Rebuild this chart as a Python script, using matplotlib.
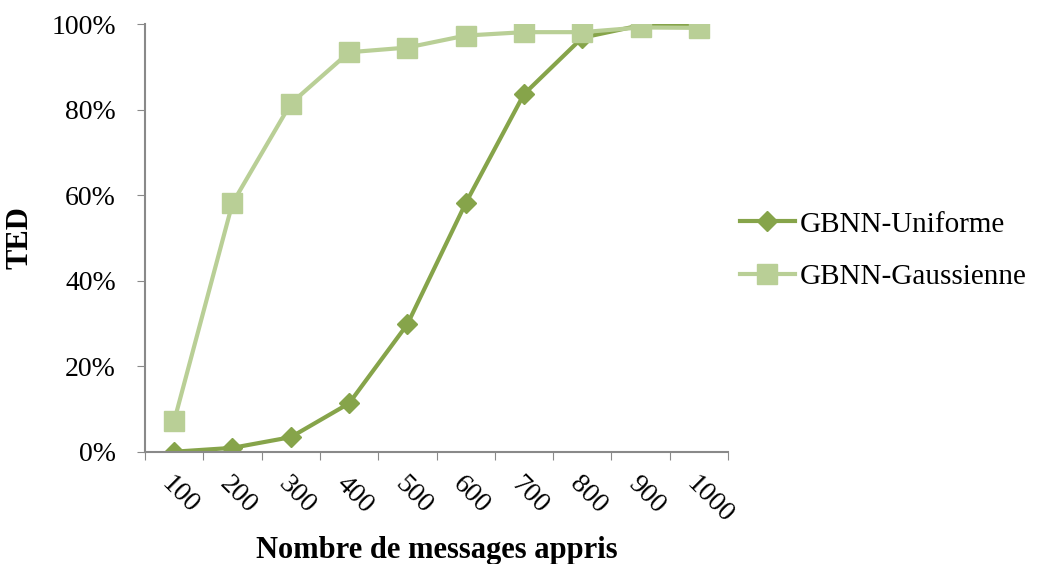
import matplotlib.pyplot as plt
import numpy as np
from matplotlib.ticker import FuncFormatter

plt.rcParams['font.family'] = ['Liberation Serif', 'DejaVu Serif']

categories = ["100", "200", "300", "400", "500", "600", "700", "800", "900", "1000"]
uniforme = [0.0, 0.9, 3.4, 11.3, 29.8, 58.1, 83.6, 96.8, 99.7, 99.8]
gaussienne = [7.2, 58.1, 81.4, 93.4, 94.5, 97.3, 98.1, 98.1, 99.2, 99.1]

fig = plt.figure(figsize=(10.54, 5.64), dpi=100)
ax = fig.add_axes([0.1376, 0.1991, 0.5531, 0.7583])

x = np.arange(len(categories))
ax.plot(x, uniforme, color="#86A44A", lw=3, marker="D", markersize=10,
        label="GBNN-Uniforme", zorder=2)
ax.plot(x, gaussienne, color="#B9CF96", lw=3, marker="s", markersize=14,
        label="GBNN-Gaussienne", zorder=3)

ax.set_xlim(-0.5, len(categories) - 0.5)
ax.set_ylim(0, 100)
ax.set_yticks(np.arange(0, 101, 20))
ax.yaxis.set_major_formatter(FuncFormatter(lambda v, p: f"{int(v)}%"))

ax.set_xticks(np.arange(len(categories) + 1) - 0.5)
ax.set_xticklabels([])
ax.set_xticks(x, minor=True)
ax.set_xticklabels(categories, minor=True, rotation=-45, ha="left", va="top",
                   rotation_mode="anchor", fontsize=20)
ax.tick_params(axis="x", which="minor", length=0, pad=14)
ax.tick_params(axis="x", which="major", length=6, color="#898989", direction="out")
ax.tick_params(axis="y", length=6, color="#898989", labelsize=20, pad=15)

for s in ["top", "right"]:
    ax.spines[s].set_visible(False)
for s in ["left", "bottom"]:
    ax.spines[s].set_color("#898989")
    ax.spines[s].set_linewidth(1.5)

ax.set_xlabel("Nombre de messages appris", fontsize=22, fontweight="bold", labelpad=6)
ax.set_ylabel("TED", fontsize=22, fontweight="bold", labelpad=12)

ax.legend(loc="center left", bbox_to_anchor=(1.0, 0.47), frameon=False, fontsize=21,
          handlelength=1.9, handletextpad=0.15, labelspacing=0.9, borderaxespad=0.0)

fig.savefig("out.png", dpi=100)
